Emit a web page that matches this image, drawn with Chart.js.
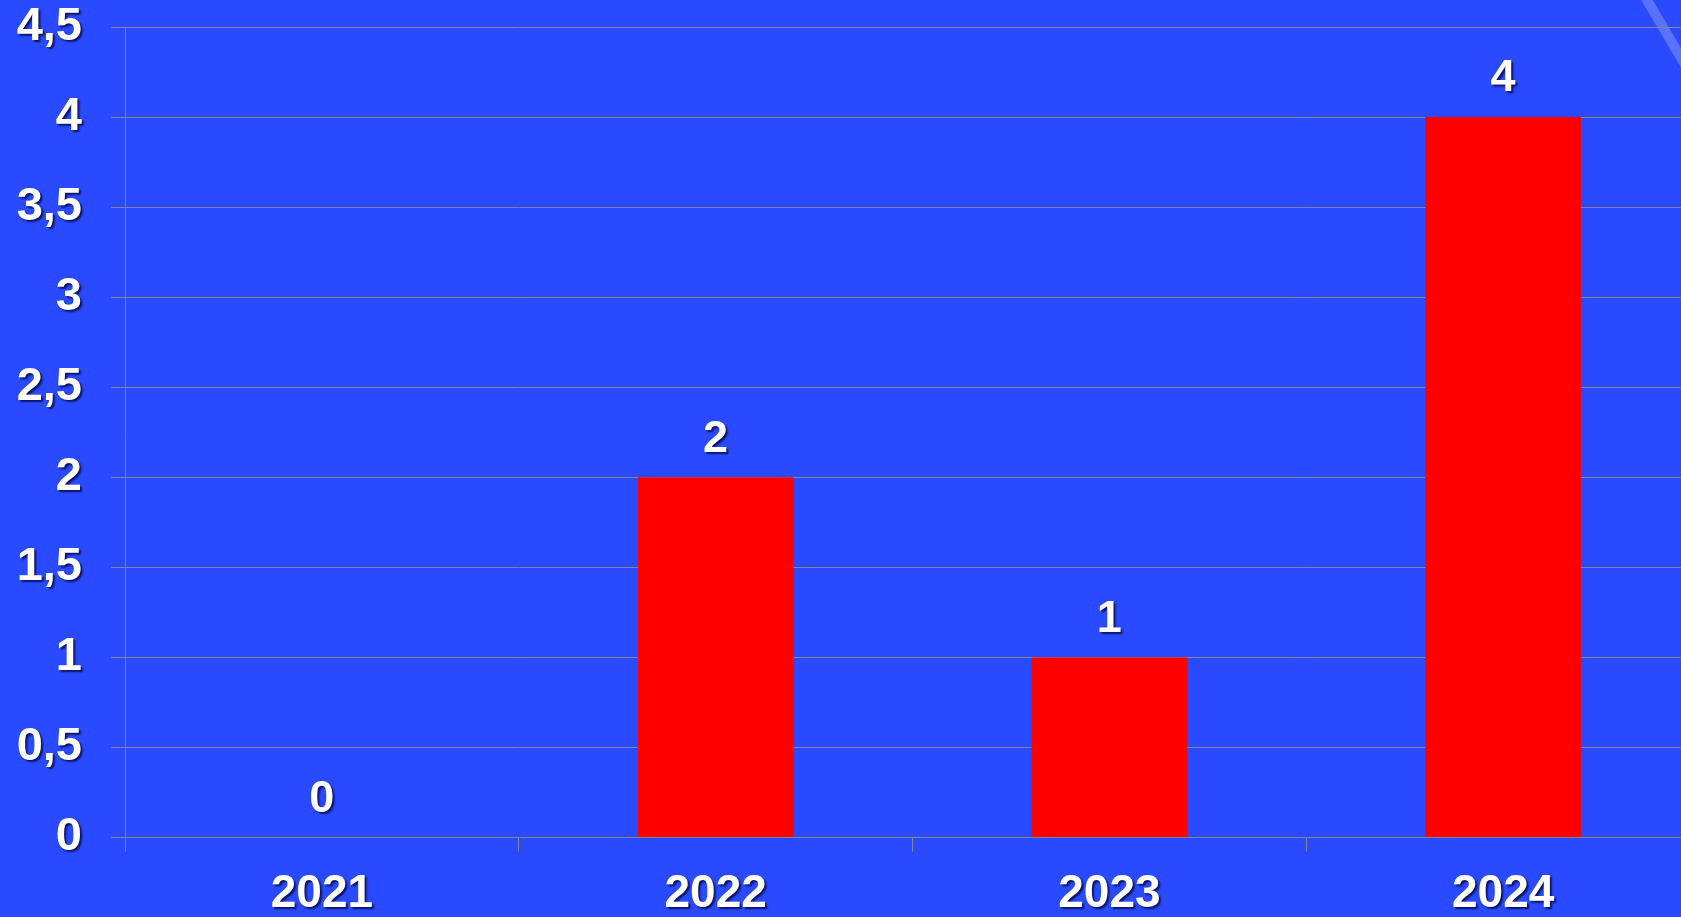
<!DOCTYPE html>
<html>
<head>
<meta charset="utf-8">
<script src="https://cdn.jsdelivr.net/npm/chart.js@4.4.1/dist/chart.umd.min.js"></script>
<style>
  html, body { margin: 0; padding: 0; background: #2a4aff; overflow: hidden; }
  #chart { display: block; }
</style>
</head>
<body>
<canvas id="chart" width="1700" height="917"></canvas>
<script>
// data
var years = ['2021', '2022', '2023', '2024'];
var counts = [0, 2, 1, 4];
var yMax = 4.5;
var yStep = 0.5;

var bgBlue = '#2a4aff';
var gridGray = '#848494';
var fontFamily = '"Liberation Sans", Arial, sans-serif';

// slide background + the faint diagonal stripe in the top-right corner
var backgroundPlugin = {
  id: 'slideBackground',
  beforeDraw: function(chart) {
    var ctx = chart.ctx;
    ctx.save();
    ctx.fillStyle = bgBlue;
    ctx.fillRect(0, 0, chart.width, chart.height);
    ctx.strokeStyle = 'rgba(200, 210, 255, 0.3)';
    ctx.lineWidth = 10;
    ctx.beginPath();
    ctx.moveTo(1644, -5);
    ctx.lineTo(1700, 90);
    ctx.stroke();
    ctx.restore();
  }
};

// give axis labels the same drop shadow as on the slide
var shadowPlugin = {
  id: 'labelShadow',
  beforeDraw: function(chart) {
    Object.keys(chart.scales).forEach(function(key) {
      var scale = chart.scales[key];
      if (scale._shadowWrapped) return;
      var orig = scale.drawLabels;
      scale.drawLabels = function(area) {
        var ctx = this.ctx;
        ctx.save();
        ctx.shadowColor = 'rgba(0, 0, 50, 0.75)';
        ctx.shadowOffsetX = 2;
        ctx.shadowOffsetY = 2;
        ctx.shadowBlur = 2;
        orig.call(this, area);
        ctx.restore();
      };
      scale._shadowWrapped = true;
    });
  }
};

// value labels above each bar
var valueLabelPlugin = {
  id: 'valueLabels',
  afterDatasetsDraw: function(chart) {
    var ctx = chart.ctx;
    var meta = chart.getDatasetMeta(0);
    ctx.save();
    ctx.font = 'bold 45px ' + fontFamily;
    ctx.fillStyle = '#ffffff';
    ctx.textAlign = 'center';
    ctx.textBaseline = 'middle';
    ctx.shadowColor = 'rgba(0, 0, 50, 0.75)';
    ctx.shadowOffsetX = 2;
    ctx.shadowOffsetY = 2;
    ctx.shadowBlur = 2;
    meta.data.forEach(function(bar, i) {
      ctx.fillText(String(counts[i]), bar.x, bar.y - 38);
    });
    ctx.restore();
  }
};

var ctx = document.getElementById('chart').getContext('2d');
var chart = new Chart(ctx, {
  type: 'bar',
  data: {
    labels: years,
    datasets: [{
      data: counts,
      backgroundColor: '#ff0000',
      borderWidth: 0,
      categoryPercentage: 1,
      barPercentage: 0.395
    }]
  },
  options: {
    responsive: false,
    animation: false,
    devicePixelRatio: 1,
    layout: { padding: { top: 27, right: 0, bottom: 0, left: 0 } },
    plugins: {
      legend: { display: false },
      tooltip: { enabled: false }
    },
    scales: {
      x: {
        offset: true,
        grid: {
          offset: true,
          drawOnChartArea: false,
          drawTicks: true,
          tickLength: 14,
          color: gridGray
        },
        border: { display: false },
        ticks: {
          color: '#ffffff',
          padding: 20,
          font: { family: fontFamily, size: 46, weight: 'bold', lineHeight: 1 }
        },
        afterFit: function(axis) { axis.height = 79.5; }
      },
      y: {
        min: 0,
        max: yMax,
        grid: {
          color: gridGray,
          tickLength: 14
        },
        border: { display: true, color: gridGray },
        ticks: {
          stepSize: yStep,
          color: '#ffffff',
          padding: 29,
          font: { family: fontFamily, size: 47, weight: 'bold', lineHeight: 1 },
          callback: function(v) { return String(v).replace('.', ','); }
        },
        afterFit: function(axis) {
          axis.width = 125;
          axis.paddingTop = 0;
          axis.paddingBottom = 0;
        }
      }
    }
  },
  plugins: [backgroundPlugin, shadowPlugin, valueLabelPlugin]
});
</script>
</body>
</html>
